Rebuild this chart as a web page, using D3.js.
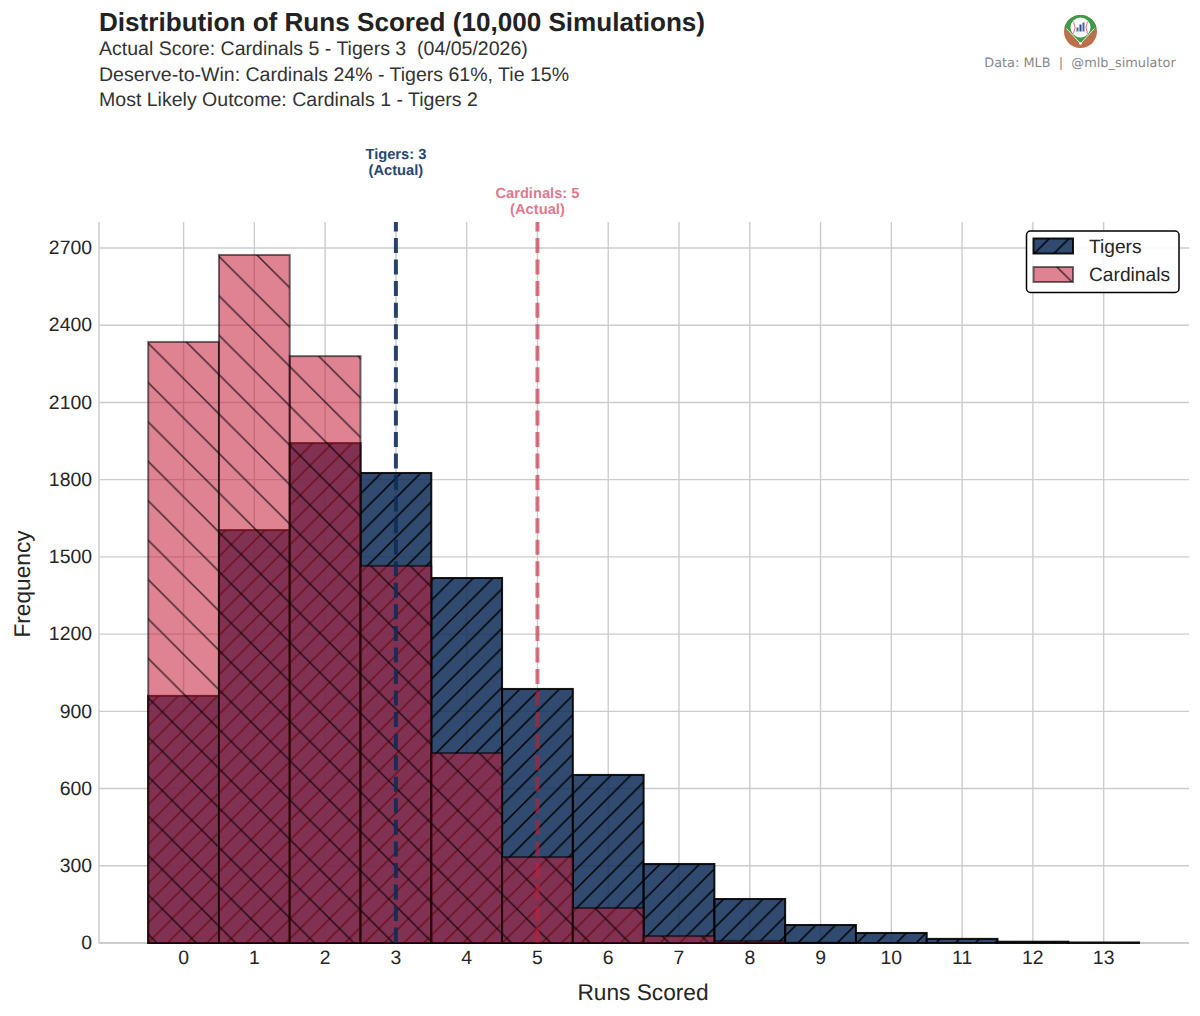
<!DOCTYPE html>
<html>
<head>
<meta charset="utf-8">
<script src="https://cdnjs.cloudflare.com/ajax/libs/d3/7.8.5/d3.min.js"></script>
<style>
    body { margin: 0; background: #fff; }
    text { font-family: "Liberation Sans", Arial, sans-serif; fill: #262626; text-rendering: geometricPrecision; }
    .grid line { stroke: #cccccc; stroke-width: 1.4; }
    .grid path { display: none; }
    .tickLabels path, .tickLabels line { display: none; }
    .tickLabels text { font-size: 19.4px; fill: #262626; }
</style>
</head>
<body>
<div id="chart"></div>
<script>
    var runs = [0, 1, 2, 3, 4, 5, 6, 7, 8, 9, 10, 11, 12, 13];
    var tigersFreq = [960, 1604, 1942, 1826, 1418, 987, 653, 307, 171, 70, 39, 16, 5, 2];
    var cardinalsFreq = [2335, 2673, 2280, 1465, 738, 334, 136, 27, 8, 1, 0, 0, 0, 0];
    var yTicks = [0, 300, 600, 900, 1200, 1500, 1800, 2100, 2400, 2700];
    var teamNames = ["Tigers", "Cardinals"];
    var actualScores = [3, 5];
    var subtitleLines = [
        "Actual Score: Cardinals 5 - Tigers 3  (04/05/2026)",
        "Deserve-to-Win: Cardinals 24% - Tigers 61%, Tie 15%",
        "Most Likely Outcome: Cardinals 1 - Tigers 2"
    ];

    var width = 1200;
    var height = 1016;
    var left = 99, right = 1189, top_ = 222, bottom = 943;

    var x = d3.scaleLinear().domain([-1.195, 14.206]).range([left, right]);
    var y = d3.scaleLinear().domain([0, 2801]).range([bottom, top_]);

    var svg = d3.select("#chart").append("svg")
        .attr("width", width)
        .attr("height", height)
        .style("display", "block");

    var tigerColor = "#0C2C56";
    var cardColor = "#C41E3A";

    var defs = svg.append("defs");
    function hatch(id, size, dir, shift, color, opacity) {
        var p = defs.append("pattern")
            .attr("id", id)
            .attr("patternUnits", "userSpaceOnUse")
            .attr("width", size)
            .attr("height", size)
            .attr("patternTransform", "translate(0," + shift + ")");
        // main diagonal plus the two corner bits so the stroke stays even across tiles
        var segs = dir > 0
            ? [[0, size, size, 0], [-2, 2, 2, -2], [size - 2, size + 2, size + 2, size - 2]]
            : [[0, 0, size, size], [size - 2, -2, size + 2, 2], [-2, size - 2, 2, size + 2]];
        segs.forEach(function (s) {
            p.append("line")
                .attr("x1", s[0]).attr("y1", s[1])
                .attr("x2", s[2]).attr("y2", s[3])
                .attr("stroke", color)
                .attr("stroke-opacity", opacity)
                .attr("stroke-width", 1.5);
        });
    }
    hatch("hatchTigers", 19.7, 1, 7.3, "#000", 1);
    hatch("hatchCardinals", 39.4, -1, 37.4, "#000", 0.72);

    // grid
    svg.append("g")
        .attr("class", "grid")
        .attr("transform", "translate(" + left + ",0)")
        .call(d3.axisLeft(y).offset(0).tickValues(yTicks).tickSize(-(right - left)).tickFormat(""));
    svg.append("g")
        .attr("class", "grid")
        .attr("transform", "translate(0," + bottom + ")")
        .call(d3.axisBottom(x).offset(0).tickValues(runs).tickSize(-(bottom - top_)).tickFormat(""));

    // spines
    svg.append("line").attr("x1", left).attr("x2", left).attr("y1", top_).attr("y2", bottom)
        .attr("stroke", "#c8c8c8").attr("stroke-width", 1.4);
    svg.append("line").attr("x1", left).attr("x2", right).attr("y1", bottom).attr("y2", bottom)
        .attr("stroke", "#c8c8c8").attr("stroke-width", 1.4);

    function drawBars(cls, values, fill, fillOp, hatchId, edgeOp) {
        var g = svg.append("g").attr("class", cls);
        var bars = g.selectAll("g").data(values).enter().append("g");
        function place(sel) {
            sel.attr("x", function (d, i) { return x(runs[i] - 0.5); })
                .attr("width", function (d, i) { return x(runs[i] + 0.5) - x(runs[i] - 0.5); })
                .attr("y", function (d) { return y(d); })
                .attr("height", function (d) { return bottom - y(d); });
        }
        bars.append("rect").call(place).attr("fill", fill).attr("fill-opacity", fillOp);
        bars.append("rect").call(place).attr("fill", "url(#" + hatchId + ")");
        bars.append("rect").call(place)
            .attr("fill", "none")
            .attr("stroke", "#000")
            .attr("stroke-opacity", edgeOp)
            .attr("stroke-width", 2);
    }
    drawBars("tigers", tigersFreq, tigerColor, 0.85, "hatchTigers", 0.9);
    drawBars("cardinals", cardinalsFreq, cardColor, 0.55, "hatchCardinals", 0.55);

    // actual score lines
    var lineColors = [tigerColor, cardColor];
    var lineAlpha = [0.88, 0.6];
    var labelColors = ["#2a4670", "#e27a8e"];
    var labelY = [154, 193];
    actualScores.forEach(function (s, i) {
        svg.append("line")
            .attr("x1", x(s)).attr("x2", x(s))
            .attr("y1", top_).attr("y2", bottom)
            .attr("stroke", lineColors[i])
            .attr("stroke-opacity", lineAlpha[i])
            .attr("stroke-width", 4)
            .attr("stroke-dasharray", "15,6.55")
            .attr("stroke-dashoffset", 5.55);
        var t = svg.append("text")
            .attr("text-anchor", "middle")
            .style("font-size", "14.7px")
            .style("font-weight", "bold")
            .style("fill", labelColors[i]);
        t.append("tspan").attr("x", x(s)).attr("y", labelY[i] + 5).text(teamNames[i] + ": " + s);
        t.append("tspan").attr("x", x(s)).attr("y", labelY[i] + 21).text("(Actual)");
    });

    // tick labels
    svg.append("g")
        .attr("class", "tickLabels")
        .attr("transform", "translate(" + left + ",0)")
        .call(d3.axisLeft(y).offset(0).tickValues(yTicks).tickSize(0).tickPadding(7).tickFormat(d3.format("d")));
    svg.append("g")
        .attr("class", "tickLabels")
        .attr("transform", "translate(0," + bottom + ")")
        .call(d3.axisBottom(x).offset(0).tickValues(runs).tickSize(0).tickPadding(7).tickFormat(d3.format("d")));

    svg.append("text")
        .attr("x", 643).attr("y", 1000)
        .attr("text-anchor", "middle")
        .style("font-size", "22.7px")
        .text("Runs Scored");
    svg.append("text")
        .attr("transform", "translate(30,584) rotate(-90)")
        .attr("text-anchor", "middle")
        .style("font-size", "22.7px")
        .text("Frequency");

    // titles
    svg.append("text")
        .attr("x", 99).attr("y", 31)
        .style("font-size", "26.1px")
        .style("font-weight", "bold")
        .style("fill", "#222")
        .text("Distribution of Runs Scored (10,000 Simulations)");
    svg.selectAll(".subtitle")
        .data(subtitleLines)
        .enter().append("text")
        .attr("class", "subtitle")
        .attr("x", 99)
        .attr("y", function (d, i) { return 55 + i * 25.7; })
        .style("font-size", "19.55px")
        .style("fill", "#333")
        .style("white-space", "pre")
        .attr("xml:space", "preserve")
        .text(function (d) { return d; });

    // legend
    var legend = svg.append("g").attr("class", "legend");
    legend.append("rect")
        .attr("x", 1026.5).attr("y", 231).attr("width", 152.5).attr("height", 61.5)
        .attr("rx", 4)
        .attr("fill", "#fff").attr("fill-opacity", 0.85)
        .attr("stroke", "#000").attr("stroke-width", 1.5);
    var legendFill = [[tigerColor, 0.85, "hatchTigers", 0.9], [cardColor, 0.55, "hatchCardinals", 0.55]];
    teamNames.forEach(function (name, i) {
        var ly = 238.5 + i * 28.5;
        var spec = legendFill[i];
        legend.append("rect").attr("x", 1033.5).attr("y", ly).attr("width", 39.5).attr("height", 15)
            .attr("fill", spec[0]).attr("fill-opacity", spec[1]);
        legend.append("rect").attr("x", 1033.5).attr("y", ly).attr("width", 39.5).attr("height", 15)
            .attr("fill", "url(#" + spec[2] + ")");
        legend.append("rect").attr("x", 1033.5).attr("y", ly).attr("width", 39.5).attr("height", 15)
            .attr("fill", "none").attr("stroke", "#000").attr("stroke-opacity", spec[3]).attr("stroke-width", 2);
        legend.append("text")
            .attr("x", 1089).attr("y", ly + 14)
            .style("font-size", "19.2px")
            .text(name);
    });

    // logo
    var logo = svg.append("g").attr("transform", "translate(1080.5,31.5)");
    logo.append("circle").attr("r", 16.5).attr("fill", "#bb6f4b");
    logo.append("path").attr("d", "M-16,-4 A16.5,16.5 0 0 1 16,-4 L0,12 Z").attr("fill", "#3f9a45");
    logo.append("path").attr("d", "M-14,-3 L0,12 L14,-3").attr("fill", "none").attr("stroke", "#f4efe6").attr("stroke-width", 1);
    logo.append("circle").attr("cy", -4).attr("r", 10).attr("fill", "#fff");
    logo.append("path").attr("d", "M-7,-10 Q-4,-4 -7,2 M7,-10 Q4,-4 7,2").attr("fill", "none").attr("stroke", "#d45050").attr("stroke-width", 0.8);
    logo.append("rect").attr("x", -4).attr("y", -4).attr("width", 2).attr("height", 4).attr("fill", "#3b6ea5");
    logo.append("rect").attr("x", -1).attr("y", -7).attr("width", 2).attr("height", 7).attr("fill", "#2b4a80");
    logo.append("rect").attr("x", 2).attr("y", -9).attr("width", 2).attr("height", 9).attr("fill", "#3b6ea5");
    logo.append("circle").attr("cy", 12).attr("r", 1.3).attr("fill", "#fff");

    svg.append("text")
        .attr("x", 1080).attr("y", 67)
        .attr("text-anchor", "middle")
        .attr("xml:space", "preserve")
        .style("font-family", "'DejaVu Sans'")
        .style("font-size", "12.9px")
        .style("fill", "#888")
        .text("Data: MLB  |  @mlb_simulator");
</script>
</body>
</html>
